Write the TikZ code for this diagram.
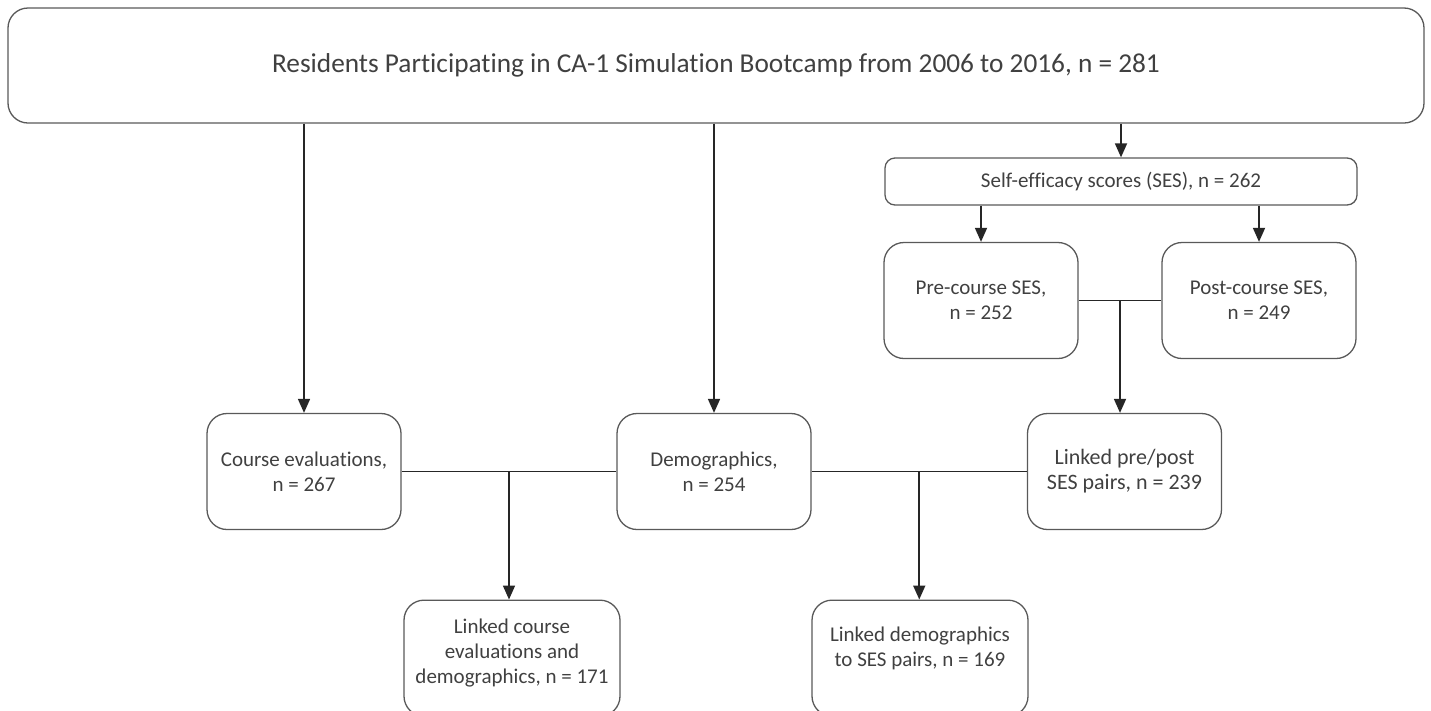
\documentclass[tikz,border=0pt]{standalone}
\usepackage{fontspec}
\setmainfont{Carlito}[Ligatures={NoCommon}]
\usetikzlibrary{arrows.meta,positioning,calc}
\definecolor{boxgray}{RGB}{89,89,89}
\definecolor{textgray}{RGB}{64,64,64}
\definecolor{linkblack}{RGB}{38,38,38}

\begin{document}
\begin{tikzpicture}[x=1pt, y=-1pt,
    flowbox/.style={draw=boxgray, line width=1.3pt, rounded corners=20pt, align=center,
        text=textgray, font=\fontsize{21}{25}\selectfont,
        minimum width=194pt, minimum height=116pt, inner sep=0pt},
    widebox/.style={flowbox, minimum width=216pt},
    thinbox/.style={flowbox, rounded corners=10pt, minimum width=472pt, minimum height=47pt},
    arr/.style={draw=linkblack, line width=1.7pt, -{Triangle[width=12pt,length=14pt]}},
    joinline/.style={draw=linkblack, line width=1.7pt}]

    % Page size
    \useasboundingbox (0,0) rectangle (1431,710);

    % Top box
    \node[flowbox, minimum width=1416pt, minimum height=115pt, font=\fontsize{27.3}{32}\selectfont]
        (bootcamp) at (716,65.5) {Residents Participating in CA-1 Simulation Bootcamp from 2006 to 2016, n = 281};

    % Self-efficacy branch
    \node[thinbox] (ses) at (1121,181.5) {Self-efficacy scores (SES), n = 262};
    \node[flowbox] (pre) at (981,300.5) {Pre-course SES,\\n = 252};
    \node[flowbox] (post) at (1259,300.5) {Post-course SES,\\n = 249};

    % Middle row
    \node[flowbox] (evals) at (304,471.5) {Course evaluations,\\n = 267};
    \node[flowbox] (demo) at (714,471.5) {Demographics,\\n = 254};
    \node[flowbox, font=\fontsize{22}{25}\selectfont] (pairs) at (1124.5,471.5) {Linked pre/post\\SES pairs, n = 239};

    % Bottom row (cut off by the page), text sits a little high
    \node[widebox, anchor=north, text depth=14pt] (evaldemo) at (512,599.5) {Linked course\\evaluations and\\demographics, n = 171};
    \node[widebox, anchor=north, text depth=22pt] (demopairs) at (920,599.5) {Linked demographics\\to SES pairs, n = 169};

    % Arrows from the top box
    \draw[arr] (bootcamp.south -| evals.north) -- (evals.north);
    \draw[arr] (bootcamp.south -| demo.north) -- (demo.north);
    \draw[arr] (bootcamp.south -| ses.north) -- (ses.north);
    \draw[arr] (ses.south -| pre.north) -- (pre.north);
    \draw[arr] (ses.south -| post.north) -- (post.north);

    % Linking lines
    \draw[joinline] (pre.east) -- (post.west);
    \coordinate (prepost) at ($(pre.east)!0.5!(post.west)$);
    \draw[arr] (prepost) -- (prepost |- pairs.north);

    \draw[joinline] (evals.east) -- (demo.west);
    \coordinate (evaljoin) at ($(evals.east)!0.5!(demo.west)$);
    \draw[arr] (evaljoin) -- (evaljoin |- evaldemo.north);

    \draw[joinline] (demo.east) -- (pairs.west);
    \coordinate (demojoin) at ($(demo.east)!0.5!(pairs.west)$);
    \draw[arr] (demojoin) -- (demojoin |- demopairs.north);

\end{tikzpicture}
\end{document}
